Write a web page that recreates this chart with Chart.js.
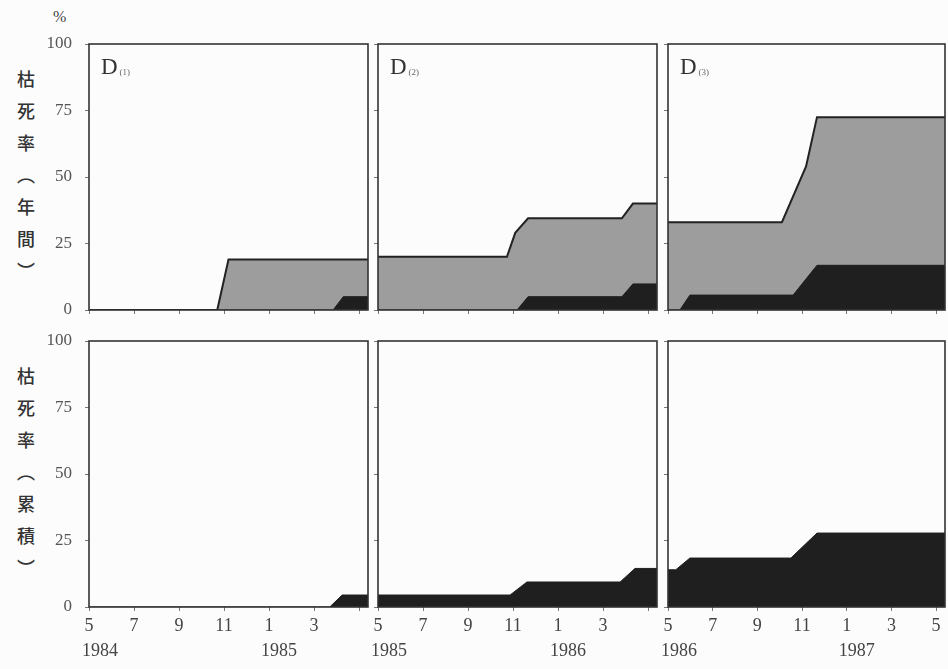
<!DOCTYPE html>
<html>
<head>
<meta charset="utf-8">
<script src="https://cdn.jsdelivr.net/npm/chart.js@4.4.0/dist/chart.umd.min.js"></script>
<style>
    body { margin: 0; background: #fcfcfc; }
    #wrap { position: relative; width: 948px; height: 669px; background: #fcfcfc; }
    .panel { position: absolute; }
    .vlabel {
        position: absolute;
        writing-mode: vertical-rl;
        font-family: 'Noto Sans CJK JP', sans-serif;
        font-weight: 500;
        font-size: 18px;
        letter-spacing: 14px;
        color: #333;
    }
    #pct { position: absolute; left: 53px; top: 8px; font: 16px 'Liberation Serif', serif; color: #444; }
</style>
</head>
<body>
<div id="wrap">
    <div id="pct">%</div>
    <div class="vlabel" style="left:13px; top:70px;">枯死率（年間）</div>
    <div class="vlabel" style="left:13px; top:367px;">枯死率（累積）</div>
</div>
<script>
// Tick labels (months counted from May) and years
const monthTicks = [0, 2, 4, 6, 8, 10, 12];
const monthLabels = ['5', '7', '9', '11', '1', '3', '5'];
const yTicks = [0, 25, 50, 75, 100];
const panelNames = ['(1)', '(2)', '(3)'];
const yearPairs = [['1984', '1985'], ['1985', '1986'], ['1986', '1987']];

// Upper row: annual mortality (gray = total, black = dead part), x = months since May
const annualGrayX1 = [0, 5.7, 6.2, 12.4];
const annualGray1 = [0, 0, 19, 19];
const annualBlackX1 = [0, 10.85, 11.3, 12.4];
const annualBlack1 = [0, 0, 5, 5];

const annualGrayX2 = [0, 5.73, 6.1, 6.67, 10.84, 11.33, 12.4];
const annualGray2 = [20, 20, 29, 34.5, 34.5, 40, 40];
const annualBlackX2 = [0, 6.18, 6.67, 10.84, 11.33, 12.4];
const annualBlack2 = [0, 0, 5, 5, 9.8, 9.8];

const annualGrayX3 = [0, 5.1, 6.18, 6.67, 12.4];
const annualGray3 = [33, 33, 54, 72.5, 72.5];
const annualBlackX3 = [0, 0.53, 0.98, 5.6, 6.67, 12.4];
const annualBlack3 = [0, 0, 5.6, 5.6, 16.8, 16.8];

// Lower row: cumulative mortality
const cumX1 = [0, 10.7, 11.25, 12.4];
const cum1 = [0, 0, 4.5, 4.5];
const cumX2 = [0, 5.87, 6.62, 10.76, 11.42, 12.4];
const cum2 = [4.5, 4.5, 9.4, 9.4, 14.5, 14.5];
const cumX3 = [0, 0.35, 0.98, 5.5, 6.67, 12.4];
const cum3 = [14, 14, 18.4, 18.4, 27.8, 27.8];

// layout of plot areas
const cols = [[89, 368], [378, 657], [668, 945]];
const rows = [[44, 310], [341, 607]];
const YW = 50;
const PAD_TOP = 12;
const PAD_RIGHT = 2;

function pts(xs, ys) {
    return xs.map((x, i) => ({ x: x, y: ys[i] }));
}

// no extra room for labels hanging over the ends of an axis
function noOverhang(s) {
    s.paddingTop = 0;
    s.paddingBottom = 0;
    s.paddingLeft = 0;
    s.paddingRight = 0;
}

const framePlugin = {
    id: 'frame',
    afterDraw(chart, args, opts) {
        const a = chart.chartArea;
        const ctx = chart.ctx;
        ctx.save();
        ctx.strokeStyle = '#333';
        ctx.lineWidth = 1.6;
        ctx.strokeRect(a.left, a.top, a.right - a.left, a.bottom - a.top);
        if (opts.title) {
            ctx.fillStyle = '#333';
            ctx.textBaseline = 'alphabetic';
            ctx.font = '23px "Liberation Serif", serif';
            ctx.fillText('D', a.left + 12, a.top + 30);
            const w = ctx.measureText('D').width;
            ctx.font = '9px "Liberation Serif", serif';
            ctx.fillStyle = '#666';
            ctx.fillText(opts.title, a.left + 14 + w, a.top + 31);
        }
        if (opts.years) {
            const xs = chart.scales.x;
            ctx.fillStyle = '#444';
            ctx.font = '18px "Liberation Serif", serif';
            ctx.textBaseline = 'middle';
            ctx.textAlign = 'left';
            ctx.fillText(opts.years[0], xs.getPixelForValue(0) - 7, a.bottom + 44);
            ctx.fillText(opts.years[1], xs.getPixelForValue(8) - 8, a.bottom + 44);
        }
        ctx.restore();
    }
};

function makePanel(col, row, datasets, opt) {
    const [L, R] = cols[col];
    const [T, B] = rows[row];
    const XH = opt.showX ? 58 : 4;
    const div = document.createElement('div');
    div.className = 'panel';
    div.style.left = (L - YW) + 'px';
    div.style.top = (T - PAD_TOP) + 'px';
    div.style.width = (R - L + YW + PAD_RIGHT) + 'px';
    div.style.height = (B - T + XH + PAD_TOP) + 'px';
    const canvas = document.createElement('canvas');
    div.appendChild(canvas);
    document.getElementById('wrap').appendChild(div);

    new Chart(canvas.getContext('2d'), {
        type: 'line',
        data: { datasets: datasets },
        plugins: [framePlugin],
        options: {
            responsive: true,
            maintainAspectRatio: false,
            animation: false,
            layout: { padding: { top: PAD_TOP, right: PAD_RIGHT, left: 0, bottom: 0 } },
            elements: { point: { radius: 0 }, line: { tension: 0 } },
            scales: {
                x: {
                    type: 'linear',
                    min: 0,
                    max: 12.4,
                    afterBuildTicks: s => { s.ticks = monthTicks.map(v => ({ value: v })); },
                    afterFit: s => { s.height = XH; noOverhang(s); },
                    border: { display: false },
                    grid: { drawOnChartArea: false, tickLength: 4, color: '#777' },
                    ticks: {
                        display: !!opt.showX,
                        autoSkip: false,
                        maxRotation: 0,
                        padding: 4,
                        color: '#444',
                        font: { size: 18, family: "'Liberation Serif', serif" },
                        callback: (v, i) => i < opt.labelCount ? monthLabels[i] : ''
                    }
                },
                y: {
                    min: 0,
                    max: 100,
                    afterBuildTicks: s => { s.ticks = yTicks.map(v => ({ value: v })); },
                    afterFit: s => { s.width = YW; noOverhang(s); },
                    border: { display: false },
                    grid: { drawOnChartArea: false, tickLength: 4, color: '#777' },
                    ticks: {
                        display: col === 0,
                        padding: 13,
                        color: '#555',
                        font: { size: 17, family: "'Liberation Serif', serif" }
                    }
                }
            },
            plugins: {
                legend: { display: false },
                tooltip: { enabled: false },
                frame: { title: opt.title, years: opt.years }
            }
        }
    });
}

function blackSet(data) {
    return { data: data, fill: 'origin', backgroundColor: '#1f1f1f', borderColor: '#1f1f1f', borderWidth: 1 };
}
function graySet(data) {
    return { data: data, fill: 'origin', backgroundColor: '#9d9d9d', borderColor: '#222', borderWidth: 2 };
}

// upper row (black first so it is drawn on top)
makePanel(0, 0, [blackSet(pts(annualBlackX1, annualBlack1)), graySet(pts(annualGrayX1, annualGray1))], { title: panelNames[0] });
makePanel(1, 0, [blackSet(pts(annualBlackX2, annualBlack2)), graySet(pts(annualGrayX2, annualGray2))], { title: panelNames[1] });
makePanel(2, 0, [blackSet(pts(annualBlackX3, annualBlack3)), graySet(pts(annualGrayX3, annualGray3))], { title: panelNames[2] });

// lower row
makePanel(0, 1, [blackSet(pts(cumX1, cum1))], { showX: true, labelCount: 6, years: yearPairs[0] });
makePanel(1, 1, [blackSet(pts(cumX2, cum2))], { showX: true, labelCount: 6, years: yearPairs[1] });
makePanel(2, 1, [blackSet(pts(cumX3, cum3))], { showX: true, labelCount: 7, years: yearPairs[2] });
</script>
</body>
</html>
